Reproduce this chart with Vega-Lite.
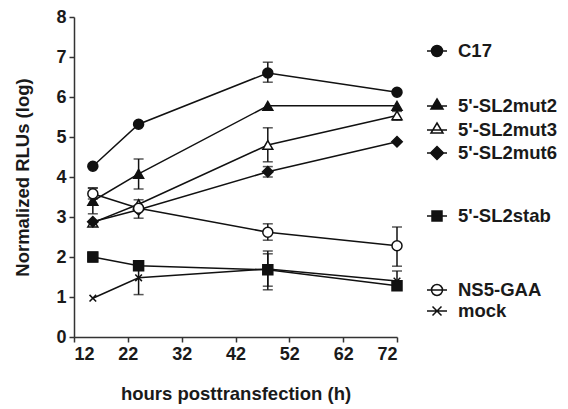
{
  "$schema": "https://vega.github.io/schema/vega-lite/v6.json",
  "width": 323,
  "height": 320,
  "autosize": "none",
  "padding": {"left": 74, "top": 17, "right": 171, "bottom": 72},
  "background": "white",
  "config": {
    "view": {"stroke": null},
    "font": "Liberation Sans",
    "axis": {
      "domainColor": "#333",
      "domainWidth": 1.5,
      "tickColor": "#333",
      "tickWidth": 1.5,
      "tickSize": 5,
      "grid": false,
      "labelFont": "Liberation Sans",
      "labelFontWeight": "bold",
      "labelFontSize": 18,
      "labelColor": "#1a1a1a",
      "labelPadding": 3,
      "titleFont": "Liberation Sans",
      "titleFontWeight": "bold",
      "titleFontSize": 18.5,
      "titleColor": "#1a1a1a"
    },
    "legend": {
      "title": null,
      "orient": "none",
      "legendX": 352,
      "labelFont": "Liberation Sans",
      "labelFontWeight": "bold",
      "labelFontSize": 18.5,
      "labelColor": "#1a1a1a",
      "symbolSize": 400,
      "symbolStrokeColor": "#111",
      "symbolStrokeWidth": 1.5,
      "labelOffset": 10,
      "padding": 0
    }
  },
  "data": {
    "values": [
      {"series": "C17", "hour": 15.5, "value": 4.27},
      {"series": "C17", "hour": 24, "value": 5.32},
      {"series": "C17", "hour": 48, "value": 6.6, "lo": 6.37, "hi": 6.87},
      {"series": "C17", "hour": 72, "value": 6.12},
      {"series": "5'-SL2mut2", "hour": 15.5, "value": 3.4, "lo": 3.08, "hi": 3.73},
      {"series": "5'-SL2mut2", "hour": 24, "value": 4.08, "lo": 3.7, "hi": 4.45},
      {"series": "5'-SL2mut2", "hour": 48, "value": 5.78},
      {"series": "5'-SL2mut2", "hour": 72, "value": 5.78},
      {"series": "5'-SL2mut3", "hour": 15.5, "value": 2.86},
      {"series": "5'-SL2mut3", "hour": 24, "value": 3.32, "lo": 2.97, "hi": 3.43},
      {"series": "5'-SL2mut3", "hour": 48, "value": 4.8, "lo": 4.38, "hi": 5.23},
      {"series": "5'-SL2mut3", "hour": 72, "value": 5.54, "lo": 5.42, "hi": 5.64},
      {"series": "5'-SL2mut6", "hour": 15.5, "value": 2.88},
      {"series": "5'-SL2mut6", "hour": 24, "value": 3.18},
      {"series": "5'-SL2mut6", "hour": 48, "value": 4.13, "lo": 4.0, "hi": 4.26},
      {"series": "5'-SL2mut6", "hour": 72, "value": 4.88},
      {"series": "5'-SL2stab", "hour": 15.5, "value": 2.0, "lo": 1.88, "hi": 2.12},
      {"series": "5'-SL2stab", "hour": 24, "value": 1.78},
      {"series": "5'-SL2stab", "hour": 48, "value": 1.68, "lo": 1.18, "hi": 2.15},
      {"series": "5'-SL2stab", "hour": 72, "value": 1.28},
      {"series": "NS5-GAA", "hour": 15.5, "value": 3.58, "lo": 3.45, "hi": 3.72},
      {"series": "NS5-GAA", "hour": 24, "value": 3.22},
      {"series": "NS5-GAA", "hour": 48, "value": 2.62, "lo": 2.42, "hi": 2.83},
      {"series": "NS5-GAA", "hour": 72, "value": 2.28, "lo": 1.77, "hi": 2.75},
      {"series": "mock", "hour": 15.5, "value": 0.97},
      {"series": "mock", "hour": 24, "value": 1.48, "lo": 1.06, "hi": 1.9},
      {"series": "mock", "hour": 48, "value": 1.7, "lo": 1.27, "hi": 2.08},
      {"series": "mock", "hour": 72, "value": 1.4, "lo": 1.18, "hi": 1.65}
    ]
  },
  "encoding": {
    "x": {
      "field": "hour", "type": "quantitative",
      "scale": {"domain": [12, 72], "nice": false, "zero": false},
      "axis": {"values": [12, 22, 32, 42, 52, 62, 72], "title": "hours posttransfection (h)", "titlePadding": 21}
    },
    "y": {
      "field": "value", "type": "quantitative",
      "scale": {"domain": [0, 8], "nice": false},
      "axis": {"values": [0, 1, 2, 3, 4, 5, 6, 7, 8], "title": "Normalized RLUs (log)", "titlePadding": 23}
    }
  },
  "layer": [
    {
      "transform": [{"filter": "isValid(datum.lo)"}],
      "mark": {"type": "rule", "color": "#111", "strokeWidth": 1.5},
      "encoding": {"y": {"field": "lo", "type": "quantitative"}, "y2": {"field": "hi"}}
    },
    {
      "transform": [{"filter": "isValid(datum.lo)"}],
      "mark": {"type": "tick", "orient": "horizontal", "color": "#111", "size": 10, "thickness": 1.5},
      "encoding": {"y": {"field": "lo", "type": "quantitative"}}
    },
    {
      "transform": [{"filter": "isValid(datum.hi)"}],
      "mark": {"type": "tick", "orient": "horizontal", "color": "#111", "size": 10, "thickness": 1.5},
      "encoding": {"y": {"field": "hi", "type": "quantitative"}}
    },
    {
      "mark": {"type": "line", "color": "#111", "strokeWidth": 1.5},
      "encoding": {"detail": {"field": "series", "type": "nominal"}}
    },
    {
      "transform": [{"filter": {"field": "series", "equal": "C17"}}],
      "mark": {"type": "point", "shape": "circle", "filled": true, "opacity": 1, "stroke": "#111", "strokeWidth": 1.5, "size": 100},
      "encoding": {
        "fill": {"field": "series", "type": "nominal", "scale": {"range": ["#111"]},
          "legend": {"legendY": 23, "symbolType": "M-1,0L1,0M0.55,0A0.55,0.55,0,1,1,-0.55,0A0.55,0.55,0,1,1,0.55,0Z",
            "encode": {"symbols": {"update": {"stroke": {"value": "#111"}, "strokeWidth": {"value": 1.5}}}}}}
      }
    },
    {
      "transform": [{"filter": {"field": "series", "equal": "5'-SL2mut2"}}],
      "mark": {"type": "point", "shape": "triangle-up", "filled": true, "opacity": 1, "stroke": "#111", "strokeWidth": 1.5, "size": 100},
      "encoding": {
        "fill": {"field": "series", "type": "nominal", "scale": {"range": ["#111"]},
          "legend": {"legendY": 78, "symbolType": "M-1,0L1,0M0,-0.7L0.6,0.3L-0.6,0.3Z",
            "encode": {"symbols": {"update": {"stroke": {"value": "#111"}, "strokeWidth": {"value": 1.5}}}}}}
      }
    },
    {
      "transform": [{"filter": {"field": "series", "equal": "5'-SL2mut3"}}],
      "mark": {"type": "point", "shape": "triangle-up", "filled": true, "opacity": 1, "stroke": "#111", "strokeWidth": 1.5, "size": 100},
      "encoding": {
        "fill": {"field": "series", "type": "nominal", "scale": {"range": ["white"]},
          "legend": {"legendY": 102, "symbolType": "M-1,0L1,0M0,-0.7L0.6,0.3L-0.6,0.3Z",
            "encode": {"symbols": {"update": {"stroke": {"value": "#111"}, "strokeWidth": {"value": 1.5}}}}}}
      }
    },
    {
      "transform": [{"filter": {"field": "series", "equal": "5'-SL2mut6"}}],
      "mark": {"type": "point", "shape": "diamond", "filled": true, "opacity": 1, "stroke": "#111", "strokeWidth": 1.5, "size": 110},
      "encoding": {
        "fill": {"field": "series", "type": "nominal", "scale": {"range": ["#111"]},
          "legend": {"legendY": 125, "symbolType": "M-1,0L1,0M0,-0.65L0.65,0L0,0.65L-0.65,0Z",
            "encode": {"symbols": {"update": {"stroke": {"value": "#111"}, "strokeWidth": {"value": 1.5}}}}}}
      }
    },
    {
      "transform": [{"filter": {"field": "series", "equal": "5'-SL2stab"}}],
      "mark": {"type": "point", "shape": "square", "filled": true, "opacity": 1, "stroke": "#111", "strokeWidth": 1.5, "size": 100},
      "encoding": {
        "fill": {"field": "series", "type": "nominal", "scale": {"range": ["#111"]},
          "legend": {"legendY": 188, "symbolType": "M-1,0L1,0M-0.5,-0.5L0.5,-0.5L0.5,0.5L-0.5,0.5Z",
            "encode": {"symbols": {"update": {"stroke": {"value": "#111"}, "strokeWidth": {"value": 1.5}}}}}}
      }
    },
    {
      "transform": [{"filter": {"field": "series", "equal": "NS5-GAA"}}],
      "mark": {"type": "point", "shape": "circle", "filled": true, "opacity": 1, "stroke": "#111", "strokeWidth": 1.5, "size": 100},
      "encoding": {
        "fill": {"field": "series", "type": "nominal", "scale": {"range": ["white"]},
          "legend": {"legendY": 262, "symbolType": "M-1,0L1,0M0.55,0A0.55,0.55,0,1,1,-0.55,0A0.55,0.55,0,1,1,0.55,0Z",
            "encode": {"symbols": {"update": {"stroke": {"value": "#111"}, "strokeWidth": {"value": 1.5}}}}}}
      }
    },
    {
      "transform": [{"filter": {"field": "series", "equal": "mock"}}],
      "mark": {"type": "point", "shape": "M-0.7,-0.7L0.7,0.7M-0.7,0.7L0.7,-0.7", "filled": true, "opacity": 1, "stroke": "#111", "strokeWidth": 1.5, "size": 90},
      "encoding": {
        "fill": {"field": "series", "type": "nominal", "scale": {"range": ["white"]},
          "legend": {"legendY": 283, "symbolType": "M-1,0L1,0M-0.45,-0.45L0.45,0.45M-0.45,0.45L0.45,-0.45",
            "encode": {"symbols": {"update": {"stroke": {"value": "#111"}, "strokeWidth": {"value": 1.5}}}}}}
      }
    }
  ],
  "resolve": {"scale": {"fill": "independent"}}
}
